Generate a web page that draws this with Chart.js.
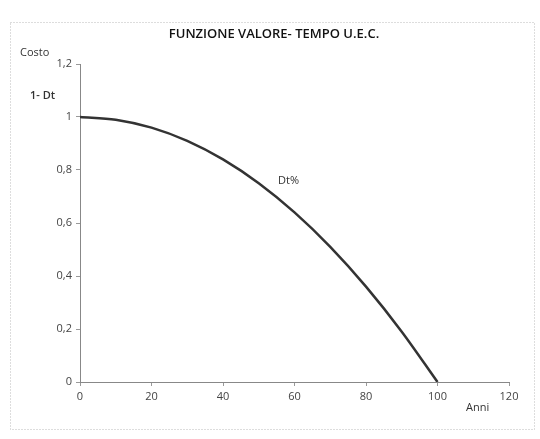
<!DOCTYPE html>
<html>
<head>
<meta charset="utf-8">
<script src="https://cdn.jsdelivr.net/npm/chart.js@4/dist/chart.umd.min.js"></script>
<style>
  html, body { margin: 0; padding: 0; background: #fff; }
  #wrap { width: 540px; height: 439px; }
</style>
</head>
<body>
<div id="wrap"><canvas id="mycanvas"></canvas></div>
<script>
// anni / valore 1-Dt
var anni = [0, 10, 20, 30, 40, 50, 60, 70, 80, 90, 100];
var valore = [1, 0.99, 0.96, 0.91, 0.84, 0.75, 0.64, 0.51, 0.36, 0.19, 0];
var xTicks = [0, 20, 40, 60, 80, 100, 120];
var yTicks = [0, 0.2, 0.4, 0.6, 0.8, 1, 1.2];

var punti = [];
for (var i in anni) {
    punti.push({ x: anni[i], y: valore[i] });
}

var labelFont = "'Open Sans', 'Liberation Sans', sans-serif";

var testi = {
    id: 'testi',
    beforeDraw: function(chart) {
        var c = chart.ctx;
        c.save();
        c.strokeStyle = '#bbb';
        c.lineWidth = 1;
        c.setLineDash([1, 2]);
        c.strokeRect(10.5, 22.5, 524, 407);
        c.restore();
    },
    afterDraw: function(chart) {
        var c = chart.ctx;
        c.save();
        c.fillStyle = '#111';
        c.textBaseline = 'middle';
        c.textAlign = 'center';
        c.font = '600 13px ' + labelFont;
        c.fillText('FUNZIONE VALORE- TEMPO U.E.C.', 274, 34);
        c.font = '11px ' + labelFont;
        c.fillStyle = '#333';
        c.textAlign = 'left';
        c.fillText('Costo', 20, 53);
        c.font = '600 11px ' + labelFont;
        c.fillText('1- Dt', 30, 96);
        c.font = '11px ' + labelFont;
        c.fillText('Dt%', 278, 181);
        c.fillText('Anni', 466, 408);
        c.restore();
    }
};

var ctx = document.getElementById('mycanvas');
var grafico = new Chart(ctx, {
    type: 'scatter',
    data: {
        datasets: [{
            data: punti,
            showLine: true,
            borderColor: '#333',
            borderWidth: 2.5,
            pointRadius: 0,
            cubicInterpolationMode: 'monotone'
        }]
    },
    options: {
        responsive: true,
        maintainAspectRatio: false,
        animation: false,
        layout: { padding: { left: 0, right: 31, top: 64, bottom: 0 } },
        plugins: { legend: { display: false }, tooltip: { enabled: false } },
        scales: {
            x: {
                type: 'linear',
                min: 0,
                max: 120,
                afterBuildTicks: function(s) { s.ticks = xTicks.map(function(v) { return { value: v }; }); },
                afterFit: function(s) { s.height = 57; },
                grid: { drawOnChartArea: false, tickLength: 4, color: '#999' },
                border: { color: '#888', dash: [1, 1] },
                ticks: { color: '#444', font: { size: 11, family: labelFont }, padding: 4 }
            },
            y: {
                min: 0,
                max: 1.2,
                afterBuildTicks: function(s) { s.ticks = yTicks.map(function(v) { return { value: v }; }); },
                afterFit: function(s) { s.width = 80; },
                grid: { drawOnChartArea: false, tickLength: 4, color: '#999' },
                border: { color: '#888', dash: [1, 1] },
                ticks: {
                    color: '#444',
                    font: { size: 11, family: labelFont },
                    padding: 4,
                    callback: function(v) { return String(Math.round(v * 10) / 10).replace('.', ','); }
                }
            }
        }
    },
    plugins: [testi]
});
</script>
</body>
</html>
